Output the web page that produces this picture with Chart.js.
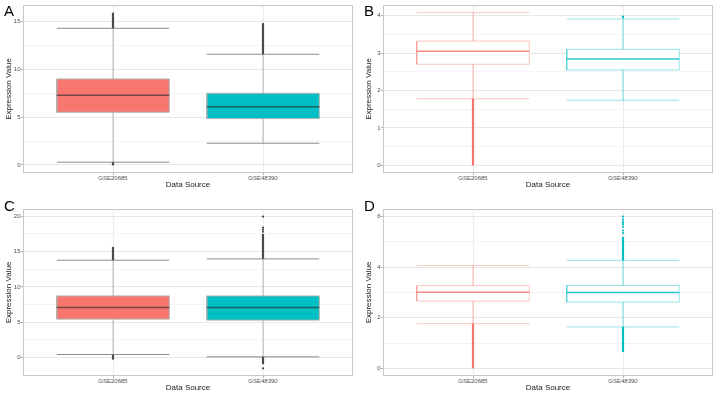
<!DOCTYPE html>
<html>
<head>
<meta charset="utf-8">
<script src="https://cdn.jsdelivr.net/npm/chart.js@4.4.1/dist/chart.umd.min.js"></script>
<style>
  body { margin: 0; background: #fff; }
  #wrap { position: relative; width: 720px; height: 394px; overflow: hidden; font-family: "Liberation Sans", Arial, sans-serif; }
  .panel { position: absolute; width: 360px; height: 197px; }
  .letter { position: absolute; font-size: 15px; line-height: 15px; color: #000; }
</style>
</head>
<body>
<div id="wrap">
  <div class="panel" style="left:0;top:0"><canvas id="chartA" width="360" height="197"></canvas></div>
  <div class="panel" style="left:360px;top:0"><canvas id="chartB" width="360" height="197"></canvas></div>
  <div class="panel" style="left:0;top:197px"><canvas id="chartC" width="360" height="197"></canvas></div>
  <div class="panel" style="left:360px;top:197px"><canvas id="chartD" width="360" height="197"></canvas></div>
  <div class="letter" style="left:4px;top:3px">A</div>
  <div class="letter" style="left:364px;top:3px">B</div>
  <div class="letter" style="left:4px;top:198px">C</div>
  <div class="letter" style="left:364px;top:198px">D</div>
</div>
<script>
const categories = ['GSE20685', 'GSE48390'];
const xPositions = [1, 2];

// box stats per category: [lower whisker, q1, median, q3, upper whisker]
const statsA = [[0.28, 5.52, 7.30, 9.00, 14.31], [2.27, 4.85, 6.10, 7.50, 11.59]];
const statsB = [[1.78, 2.70, 3.05, 3.32, 4.08], [1.74, 2.55, 2.84, 3.10, 3.91]];
const statsC = [[0.42, 5.43, 7.07, 8.71, 13.77], [0.09, 5.29, 7.07, 8.71, 13.96]];
const statsD = [[1.77, 2.66, 3.01, 3.27, 4.06], [1.64, 2.62, 3.00, 3.28, 4.27]];

// runs of overlapping outliers [from, to] per category
const denseA = [[[14.31, 15.95], [-0.05, 0.28]], [[11.59, 14.85]]];
const denseB = [[[0.0, 1.78]], [[3.93, 4.0]]];
const denseC = [[[13.77, 15.65], [-0.3, 0.42]], [[13.96, 17.5], [-0.95, 0.09]]];
const denseD = [[[0.0, 1.77]], [[4.27, 5.2], [0.65, 1.64]]];

// outliers standing apart
const pointsA = [[], []];
const pointsB = [[], []];
const pointsC = [[], [17.8, 18.1, 18.4, 19.95, -1.55]];
const pointsD = [[], [5.35, 5.45, 5.6, 5.7, 5.78, 5.88, 6.0]];

const yTicksA = [0, 5, 10, 15];
const yTicksB = [0, 1, 2, 3, 4];
const yTicksC = [0, 5, 10, 15, 20];
const yTicksD = [0, 2, 4, 6];

Chart.defaults.font.family = '"Liberation Sans", Arial, sans-serif';

const red = '248,118,109';
const teal = '0,191,196';

const panelBorder = {
  id: 'panelBorder',
  afterDatasetsDraw(chart) {
    const { ctx, chartArea: a } = chart;
    ctx.save();
    ctx.strokeStyle = '#c8c8c8';
    ctx.lineWidth = 1;
    ctx.strokeRect(a.left + 0.5, a.top + 0.5, a.width - 1, a.height - 1);
    ctx.restore();
  }
};

function colours(col, filled) {
  if (filled) {
    return {
      whisker: 'rgba(0,0,0,0.2)', box: 'rgb(' + col + ')', boxBorder: '#b0b0b0',
      median: 'rgba(40,40,40,0.62)', cap: '#8c8c8c', outlier: '#4a4a4a'
    };
  }
  return {
    whisker: 'rgba(' + col + ',0.4)', box: '#ffffff', boxBorder: 'rgba(' + col + ',0.42)',
    median: 'rgba(' + col + ',0.85)', cap: 'rgba(' + col + ',0.42)', outlier: 'rgb(' + col + ')'
  };
}

function buildDatasets(stats, dense, points, filled) {
  const ds = [];
  const half = 0.375;
  stats.forEach((s, i) => {
    const x = xPositions[i];
    const c = colours(i === 0 ? red : teal, filled);
    const [lo, q1, med, q3, hi] = s;
    ds.push({ data: [{ x, y: lo }, { x, y: hi }], borderColor: c.whisker, borderWidth: 1.3, order: 5 });
    ds.push({
      data: [{ x: x - half, y: q1 }, { x: x + half, y: q1 }, { x: x + half, y: q3 }, { x: x - half, y: q3 }, { x: x - half, y: q1 }],
      fill: 'shape', backgroundColor: c.box, borderColor: c.boxBorder, borderWidth: 1, order: 4
    });
    ds.push({ data: [{ x: x - half, y: med }, { x: x + half, y: med }], borderColor: c.median, borderWidth: 1.5, order: 3 });
    [lo, hi].forEach(v => {
      ds.push({ data: [{ x: x - half, y: v }, { x: x + half, y: v }], borderColor: c.cap, borderWidth: 1, order: 2 });
    });
    dense[i].forEach(r => {
      ds.push({ data: [{ x, y: r[0] }, { x, y: r[1] }], borderColor: c.outlier, borderWidth: 2.2, order: 1 });
    });
    if (points[i].length) {
      ds.push({
        data: points[i].map(v => ({ x, y: v })), showLine: false, pointRadius: 1.1,
        pointBackgroundColor: c.outlier, pointBorderWidth: 0, order: 0
      });
    }
  });
  return ds;
}

function yRange(stats, dense, points) {
  const vals = [];
  stats.forEach(s => vals.push(s[0], s[4]));
  dense.forEach(d => d.forEach(r => vals.push(r[0], r[1])));
  points.forEach(p => vals.push(...p));
  const mn = Math.min(...vals), mx = Math.max(...vals);
  const pad = (mx - mn) * 0.05;
  return [mn - pad, mx + pad];
}

function drawPanel(id, stats, dense, points, majors, filled, topPad, bottomPad) {
  const [ymin, ymax] = yRange(stats, dense, points);
  const step = majors[1] - majors[0];
  const minors = [majors[0] - step / 2];
  majors.forEach(v => minors.push(v + step / 2));
  const allTicks = majors.concat(minors.filter(v => v >= ymin && v <= ymax)).sort((a, b) => a - b);

  new Chart(document.getElementById(id), {
    type: 'line',
    data: { datasets: buildDatasets(stats, dense, points, filled) },
    plugins: [panelBorder],
    options: {
      responsive: false,
      animation: false,
      events: [],
      layout: { padding: { top: topPad, right: 7, bottom: bottomPad, left: 0 } },
      elements: { point: { radius: 0 }, line: { tension: 0 } },
      plugins: { legend: { display: false }, tooltip: { enabled: false } },
      scales: {
        x: {
          type: 'linear', min: 0.4, max: 2.6,
          afterBuildTicks: sc => { sc.ticks = xPositions.map(v => ({ value: v })); },
          afterFit: sc => { sc.height = 18; },
          ticks: {
            callback: v => categories[xPositions.indexOf(v)],
            font: { size: 6 }, color: '#4d4d4d', padding: 0, maxRotation: 0, autoSkip: false
          },
          grid: { color: '#ececec', tickColor: '#b3b3b3', tickLength: 2 },
          border: { display: false },
          title: { display: true, text: 'Data Source', font: { size: 8 }, color: '#1a1a1a', padding: { top: 0, bottom: 1 } }
        },
        y: {
          type: 'linear', min: ymin, max: ymax,
          afterBuildTicks: sc => { sc.ticks = allTicks.map(v => ({ value: v })); },
          afterFit: sc => { sc.width = 23; },
          ticks: {
            callback: v => majors.includes(v) ? String(v) : '',
            font: { size: 6 }, color: '#4d4d4d', padding: 0.5, autoSkip: false
          },
          grid: {
            color: ctx => majors.includes(ctx.tick.value) ? '#e8e8e8' : '#f4f4f4',
            tickColor: ctx => majors.includes(ctx.tick.value) ? '#b3b3b3' : 'rgba(0,0,0,0)',
            tickLength: 2
          },
          border: { display: false },
          title: { display: true, text: 'Expression Value', font: { size: 8 }, color: '#1a1a1a', padding: { top: 4 } }
        }
      }
    }
  });
}

drawPanel('chartA', statsA, denseA, pointsA, yTicksA, true, 5, 6);
drawPanel('chartB', statsB, denseB, pointsB, yTicksB, false, 5, 6);
drawPanel('chartC', statsC, denseC, pointsC, yTicksC, true, 12, 0);
drawPanel('chartD', statsD, denseD, pointsD, yTicksD, false, 12, 0);
</script>
</body>
</html>
